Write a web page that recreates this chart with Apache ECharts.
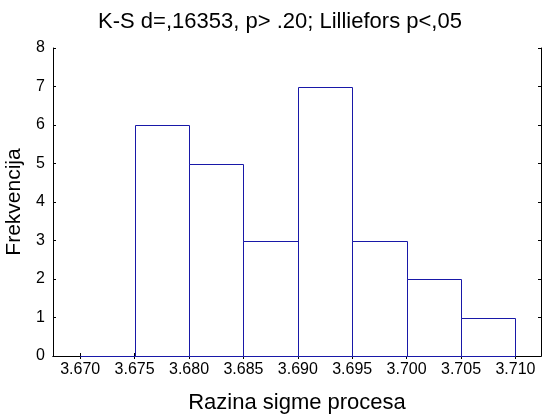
<!DOCTYPE html>
<html>
<head>
<meta charset="utf-8">
<script src="https://cdn.jsdelivr.net/npm/echarts@6/dist/echarts.min.js"></script>
<style>
html,body{margin:0;padding:0;background:#fff;}
#chart{width:542px;height:414px;}
</style>
</head>
<body>
<div id="chart"></div>
<script>
// Data
const binStarts = [3.670, 3.675, 3.680, 3.685, 3.690, 3.695, 3.700, 3.705];
const binEnds   = [3.675, 3.680, 3.685, 3.690, 3.695, 3.700, 3.705, 3.710];
const counts    = [0, 6, 5, 3, 7, 3, 2, 1];
const xTicks    = [3.670, 3.675, 3.680, 3.685, 3.690, 3.695, 3.700, 3.705, 3.710];
const titleText = 'K-S d=,16353, p> .20; Lilliefors p<,05';
const xName = 'Razina sigme procesa';
const yName = 'Frekvencija';

const FONT = 'Liberation Sans, Arial, sans-serif';
const barColor = '#1818a8';

const chart = echarts.init(document.getElementById('chart'), null, {renderer: 'canvas'});

const histData = binStarts.map((s, i) => [s, binEnds[i], counts[i]]);

const option = {
  backgroundColor: '#fff',
  animation: false,
  title: {
    text: titleText,
    left: 275,
    textAlign: 'center',
    top: 6,
    textStyle: {fontFamily: FONT, fontSize: 22, fontWeight: 'normal', color: '#000'}
  },
  grid: {left: 53, right: 1, top: 48, bottom: 58, outerBoundsMode: 'none', containLabel: false},
  xAxis: [{
    type: 'value',
    min: 3.6675, max: 3.71235,
    position: 'bottom',
    name: xName,
    nameLocation: 'middle',
    nameGap: 36,
    nameTextStyle: {fontFamily: FONT, fontSize: 22, color: '#000'},
    axisLine: {show: true, lineStyle: {color: '#000', width: 1}},
    axisTick: {show: true, inside: true, length: 3, customValues: xTicks, lineStyle: {color: '#000'}},
    axisLabel: {customValues: xTicks, formatter: v => v.toFixed(3), fontFamily: FONT, fontSize: 16, color: '#000', margin: 6},
    splitLine: {show: false}
  }, {
    type: 'value',
    min: 3.6675, max: 3.71235,
    position: 'top',
    axisLine: {show: true, lineStyle: {color: '#000', width: 1}},
    axisTick: {show: true, inside: true, length: 3, customValues: xTicks, lineStyle: {color: '#000'}},
    axisLabel: {show: false},
    splitLine: {show: false}
  }],
  yAxis: [{
    type: 'value',
    min: 0, max: 8, interval: 1,
    position: 'left',
    name: yName,
    nameLocation: 'middle',
    nameGap: 19,
    nameTextStyle: {fontFamily: FONT, fontSize: 21, color: '#000'},
    axisLine: {show: true, lineStyle: {color: '#000', width: 1}},
    axisTick: {show: true, inside: true, length: 3, lineStyle: {color: '#000'}},
    axisLabel: {fontFamily: FONT, fontSize: 16, color: '#000', margin: 8},
    splitLine: {show: false}
  }, {
    type: 'value',
    min: 0, max: 8, interval: 1,
    position: 'right',
    axisLine: {show: true, lineStyle: {color: '#000', width: 1}},
    axisTick: {show: true, inside: true, length: 3, lineStyle: {color: '#000'}},
    axisLabel: {show: false},
    splitLine: {show: false}
  }],
  series: [{
    type: 'custom',
    xAxisIndex: 0,
    yAxisIndex: 0,
    data: histData,
    encode: {x: [0, 1], y: 2},
    renderItem: function (params, api) {
      const p0 = api.coord([api.value(0), api.value(2)]);
      const p1 = api.coord([api.value(1), 0]);
      const x0 = Math.round(p0[0]) + 0.5;
      const x1 = Math.round(p1[0]) + 0.5;
      const y0 = Math.round(p0[1]) + 0.5;
      const y1 = Math.round(p1[1]) + 0.5;
      return {
        type: 'rect',
        shape: {x: x0, y: y0, width: x1 - x0, height: y1 - y0},
        style: {fill: '#fff', stroke: barColor, lineWidth: 1}
      };
    }
  }]
};
chart.setOption(option);
</script>
</body>
</html>
